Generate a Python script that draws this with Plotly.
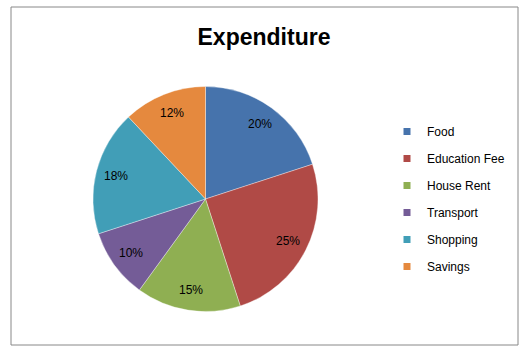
import math
import plotly.graph_objects as go

categories = ["Food", "Education Fee", "House Rent", "Transport", "Shopping", "Savings"]
values = [20, 25, 15, 10, 18, 12]
colors = ["#4673AC", "#B04A46", "#8FAF52", "#745C97", "#419EB7", "#E5893E"]

W, H = 524, 359
CX, CY, R = 205.5, 199.0, 112.5  # pie centre / radius in page pixels
LABEL_R = 0.82

fig = go.Figure()

fig.add_trace(go.Pie(
    labels=categories, values=values, sort=False, direction="clockwise", rotation=0,
    marker=dict(colors=colors, line=dict(color="rgba(255,255,255,0.5)", width=0.7)),
    textinfo="none",
    hoverinfo="label+percent",
    showlegend=False,
    domain=dict(x=[(CX - R) / W, (CX + R) / W],
                y=[(H - (CY + R)) / H, (H - (CY - R)) / H]),
))

# percentage labels placed at the slice mid-angle (derived from the values)
total = sum(values)
cum = 0.0
for v in values:
    mid = (cum + v / 2) / total * 2 * math.pi
    cum += v
    px = CX + LABEL_R * R * math.sin(mid)
    py = CY - LABEL_R * R * math.cos(mid)
    fig.add_annotation(
        x=px / W, y=1 - py / H, xref="paper", yref="paper",
        text=f"{round(v / total * 100)}%", showarrow=False,
        xanchor="center", yanchor="middle",
        font=dict(family="Liberation Sans, Arial, sans-serif", size=12, color="#000000"),
    )

for c, col in zip(categories, colors):
    fig.add_trace(go.Scatter(
        x=[None], y=[None], mode="markers", name=c, legendgroup=c,
        marker=dict(symbol="square", size=7, color=col),
    ))

fig.add_shape(type="rect", xref="paper", yref="paper",
              x0=11 / W, x1=518 / W, y0=(H - 345) / H, y1=(H - 7) / H,
              line=dict(color="#888888", width=1), fillcolor="rgba(0,0,0,0)")

fig.update_layout(
    width=W, height=H,
    margin=dict(l=0, r=0, t=0, b=0),
    paper_bgcolor="white", plot_bgcolor="white",
    title=dict(text="<b>Expenditure</b>", x=264 / W, xanchor="center",
               y=1 - 37 / H, yanchor="middle",
               font=dict(family="Liberation Sans, Arial, sans-serif", size=23, color="#000000")),
    xaxis=dict(visible=False), yaxis=dict(visible=False),
    legend=dict(x=387 / W, y=1 - 117 / H, xanchor="left", yanchor="top",
                tracegroupgap=8, itemwidth=30,
                font=dict(family="Liberation Sans, Arial, sans-serif", size=12, color="#000000"),
                bgcolor="rgba(0,0,0,0)"),
)

fig.write_html("out.html", config={"displayModeBar": False},
               post_script="document.body.style.margin='0';")
